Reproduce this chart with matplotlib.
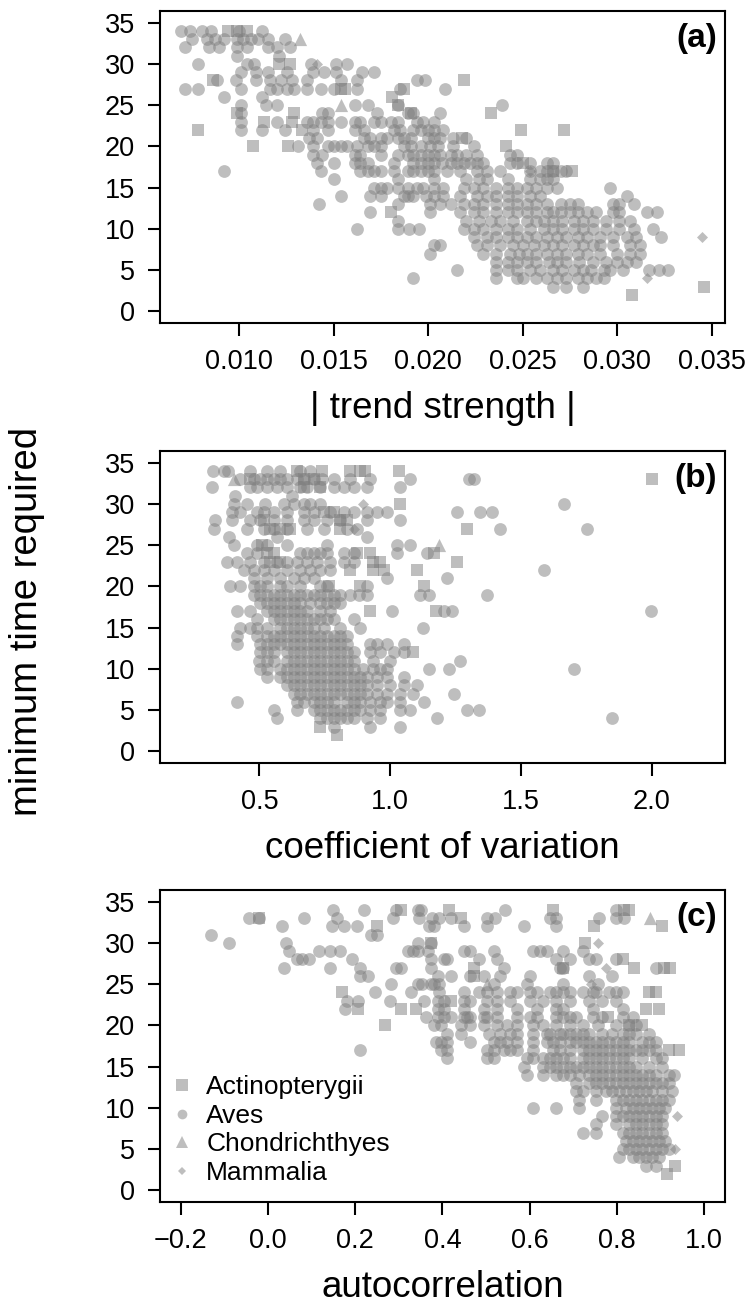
import matplotlib
matplotlib.use("Agg")
import matplotlib.pyplot as plt
from matplotlib.lines import Line2D

plt.rcParams['font.family'] = ['Liberation Sans', 'DejaVu Sans']

# --- Panel (a): |trend strength| vs minimum time required ---
# Aves rows: minimum time -> trend strength values
a_aves = {
    34: [0.0069, 0.0074, 0.0080, 0.0085, 0.0100, 0.0112],
    33: [0.0075, 0.0083, 0.0087, 0.0092, 0.0099, 0.0102, 0.0106, 0.0110, 0.0115, 0.0124],
    32: [0.0071, 0.0084, 0.0089, 0.0099, 0.0104, 0.0115, 0.0120, 0.0127],
    31: [0.0099, 0.0121],
    30: [0.0078, 0.0104, 0.0108, 0.0138, 0.0151, 0.0157],
    29: [0.0101, 0.0109, 0.0115, 0.0125, 0.0139, 0.0145, 0.0151, 0.0165, 0.0171],
    28: [0.0088, 0.0098, 0.0109, 0.0116, 0.0122, 0.0128, 0.0136, 0.0154, 0.0162, 0.0194, 0.0198],
    27: [0.0071, 0.0078, 0.0101, 0.0116, 0.0120, 0.0125, 0.0129, 0.0136, 0.0143, 0.0150, 0.0162,
         0.0185, 0.0209],
    26: [0.0092, 0.0112],
    25: [0.0101, 0.0114, 0.0120, 0.0161, 0.0168, 0.0184, 0.0239],
    24: [0.0101, 0.0144, 0.0147, 0.0173, 0.0189, 0.0192, 0.0206],
    23: [0.0101, 0.0120, 0.0136, 0.0139, 0.0143, 0.0147, 0.0154, 0.0161, 0.0164, 0.0171, 0.0175,
         0.0180, 0.0184, 0.0194, 0.0197, 0.0203],
    22: [0.0101, 0.0112, 0.0124, 0.0139, 0.0147, 0.0161, 0.0166, 0.0182, 0.0185, 0.0192, 0.0196,
         0.0200, 0.0203, 0.0208],
    21: [0.0137, 0.0141, 0.0166, 0.0169, 0.0175, 0.0178, 0.0184, 0.0187, 0.0191, 0.0200, 0.0203,
         0.0206, 0.0213, 0.0220],
    20: [0.0131, 0.0139, 0.0147, 0.0150, 0.0154, 0.0157, 0.0162, 0.0168, 0.0171, 0.0175, 0.0187,
         0.0191, 0.0196, 0.0201, 0.0205, 0.0213, 0.0224],
    19: [0.0139, 0.0144, 0.0161, 0.0164, 0.0175, 0.0184, 0.0189, 0.0192, 0.0196, 0.0200, 0.0203,
         0.0206, 0.0212, 0.0215, 0.0220, 0.0226, 0.0243, 0.0247],
    18: [0.0141, 0.0150, 0.0161, 0.0164, 0.0168, 0.0182, 0.0192, 0.0196, 0.0200, 0.0203, 0.0207,
         0.0212, 0.0215, 0.0219, 0.0222, 0.0226, 0.0229, 0.0243, 0.0247, 0.0254, 0.0263, 0.0266],
    17: [0.0092, 0.0143, 0.0164, 0.0168, 0.0171, 0.0175, 0.0182, 0.0189, 0.0192, 0.0196, 0.0200,
         0.0203, 0.0210, 0.0217, 0.0226, 0.0231, 0.0238, 0.0254, 0.0259, 0.0263, 0.0266, 0.0270,
         0.0273],
    16: [0.0150, 0.0184, 0.0203, 0.0220, 0.0227, 0.0231, 0.0242, 0.0254, 0.0259, 0.0263, 0.0266],
    15: [0.0171, 0.0175, 0.0178, 0.0184, 0.0189, 0.0194, 0.0197, 0.0203, 0.0208, 0.0219, 0.0224,
         0.0229, 0.0236, 0.0242, 0.0247, 0.0252, 0.0257, 0.0263, 0.0268, 0.0296],
    14: [0.0154, 0.0169, 0.0175, 0.0187, 0.0189, 0.0192, 0.0199, 0.0203, 0.0208, 0.0217, 0.0226,
         0.0231, 0.0236, 0.0242, 0.0247, 0.0254, 0.0259, 0.0305],
    13: [0.0142, 0.0184, 0.0201, 0.0206, 0.0212, 0.0219, 0.0224, 0.0229, 0.0236, 0.0242, 0.0247,
         0.0252, 0.0257, 0.0263, 0.0270, 0.0275, 0.0279, 0.0298, 0.0301, 0.0309],
    12: [0.0169, 0.0201, 0.0217, 0.0224, 0.0229, 0.0236, 0.0242, 0.0247, 0.0252, 0.0257, 0.0263,
         0.0266, 0.0270, 0.0275, 0.0279, 0.0284, 0.0289, 0.0298, 0.0301, 0.0316, 0.0321],
    11: [0.0184, 0.0220, 0.0227, 0.0233, 0.0238, 0.0245, 0.0252, 0.0257, 0.0261, 0.0266, 0.0271,
         0.0277, 0.0282, 0.0287, 0.0294, 0.0301, 0.0307],
    10: [0.0162, 0.0184, 0.0190, 0.0195, 0.0219, 0.0224, 0.0229, 0.0236, 0.0242, 0.0247, 0.0254,
         0.0261, 0.0266, 0.0271, 0.0277, 0.0282, 0.0287, 0.0294, 0.0301, 0.0309, 0.0319],
    9: [0.0224, 0.0231, 0.0236, 0.0242, 0.0247, 0.0252, 0.0257, 0.0263, 0.0268, 0.0273, 0.0279,
        0.0284, 0.0291, 0.0298, 0.0305, 0.0310, 0.0323],
    8: [0.0203, 0.0206, 0.0226, 0.0231, 0.0238, 0.0245, 0.0250, 0.0256, 0.0261, 0.0266, 0.0271,
        0.0277, 0.0282, 0.0287, 0.0291, 0.0298, 0.0307, 0.0312],
    7: [0.0201, 0.0229, 0.0236, 0.0243, 0.0248, 0.0252, 0.0257, 0.0263, 0.0268, 0.0273, 0.0279,
        0.0284, 0.0291, 0.0300, 0.0307, 0.0312],
    6: [0.0236, 0.0242, 0.0247, 0.0252, 0.0257, 0.0264, 0.0268, 0.0273, 0.0280, 0.0287, 0.0294,
        0.0300, 0.0305, 0.0310],
    5: [0.0215, 0.0236, 0.0242, 0.0247, 0.0254, 0.0259, 0.0266, 0.0271, 0.0277, 0.0282, 0.0286,
        0.0293, 0.0296, 0.0303, 0.0317, 0.0322, 0.0327],
    4: [0.0192, 0.0236, 0.0247, 0.0250, 0.0257, 0.0263, 0.0268, 0.0273, 0.0279, 0.0284, 0.0289,
        0.0293],
    3: [0.0266, 0.0273, 0.0282],
}
a_actino_x = [0.0094, 0.0099, 0.0104, 0.0086, 0.0078, 0.0099, 0.0107, 0.0113, 0.0126, 0.0129,
              0.0128, 0.0133, 0.0121, 0.0127, 0.0154, 0.0156, 0.0187, 0.0181, 0.0184, 0.0191,
              0.0180, 0.0219, 0.0233, 0.0249, 0.0272, 0.0241, 0.0218, 0.0250, 0.0276, 0.0266,
              0.0308, 0.0346]
a_actino_y = [34, 34, 34, 28, 22, 24, 20, 23, 20, 24,
              23, 22, 30, 30, 27, 27, 27, 26, 25, 24,
              12, 28, 24, 22, 22, 20, 21, 18, 17, 17,
              2, 3]
a_chond_x = [0.0132, 0.0154]
a_chond_y = [33, 25]
a_mamm_x = [0.0141, 0.0254, 0.0316, 0.0345]
a_mamm_y = [30, 17, 4, 9]

# --- Panel (b): coefficient of variation ---
b_aves = {
    34: [0.323, 0.364, 0.379, 0.466, 0.529, 0.580, 0.656, 0.695],
    33: [0.427, 0.478, 0.504, 0.529, 0.555, 0.580, 0.606, 0.644, 0.669, 0.707, 0.739, 0.784,
         0.847, 0.924, 1.076, 1.300, 1.319],
    32: [0.319, 0.466, 0.491, 0.529, 0.567, 0.606, 0.656, 0.682, 0.733, 0.784, 0.822, 0.860,
         0.911, 1.038],
    31: [0.408, 0.625],
    30: [0.402, 0.453, 0.523, 0.593, 0.631, 0.669, 0.695, 0.733, 1.663],
    29: [0.396, 0.427, 0.491, 0.517, 0.555, 0.606, 0.669, 0.707, 0.771, 0.822, 0.860, 0.911,
         0.949, 0.987, 1.256, 1.345, 1.389],
    28: [0.332, 0.396, 0.466, 0.504, 0.555, 0.606, 0.669, 0.707, 0.758, 0.809, 0.911, 1.038],
    27: [0.326, 0.453, 0.517, 0.555, 0.606, 0.682, 0.746, 0.835, 0.873, 1.421, 1.752],
    26: [0.383, 0.567, 0.911],
    25: [0.402, 0.491, 0.529, 0.606, 0.758, 1.025, 1.076],
    24: [0.453, 0.491, 0.656, 0.682, 0.707, 0.733, 0.758, 0.822, 0.860, 1.025, 1.141],
    23: [0.377, 0.415, 0.466, 0.517, 0.567, 0.606, 0.644, 0.682, 0.720, 0.771, 0.822, 0.860],
    22: [0.440, 0.478, 0.517, 0.555, 0.606, 0.656, 0.695, 0.733, 0.771, 1.587],
    21: [0.478, 0.529, 0.580, 0.631, 0.669, 0.707, 0.987, 1.218],
    20: [0.389, 0.427, 0.478, 0.504, 0.529, 0.580, 0.606, 0.656, 0.733, 0.758, 0.911],
    19: [0.478, 0.504, 0.529, 0.555, 0.580, 0.606, 0.631, 0.656, 0.682, 0.707, 0.733, 0.758,
         0.784, 0.809, 0.847, 0.879, 0.911, 1.115, 1.148, 1.370],
    18: [0.504, 0.529, 0.555, 0.580, 0.606, 0.631, 0.656, 0.695, 0.733, 0.758, 0.784, 0.809],
    17: [0.415, 0.466, 0.529, 0.555, 0.580, 0.606, 0.631, 0.656, 0.682, 0.733, 0.771, 1.006,
         1.205, 1.237, 1.997],
    16: [0.491, 0.555, 0.580, 0.606, 0.631, 0.656, 0.682, 0.707, 0.733, 0.758, 0.784, 0.860],
    15: [0.427, 0.466, 0.491, 0.529, 0.580, 0.606, 0.631, 0.656, 0.682, 0.707, 0.746, 0.809,
         0.885, 1.127],
    14: [0.415, 0.491, 0.529, 0.555, 0.580, 0.606, 0.631, 0.656, 0.682, 0.707, 0.733, 0.758,
         0.784, 0.809, 0.835],
    13: [0.415, 0.504, 0.529, 0.555, 0.580, 0.606, 0.631, 0.656, 0.682, 0.707, 0.733, 0.758,
         0.784, 0.809, 0.835, 0.924, 0.949, 0.987, 1.051],
    12: [0.504, 0.529, 0.555, 0.606, 0.631, 0.656, 0.682, 0.707, 0.733, 0.758, 0.784, 0.809,
         0.835, 0.860, 0.924, 0.962, 1.013, 1.051],
    11: [0.497, 0.529, 0.555, 0.606, 0.631, 0.656, 0.682, 0.707, 0.733, 0.758, 0.784, 0.809,
         0.835, 0.860, 0.936, 1.000, 1.266],
    10: [0.504, 0.529, 0.580, 0.606, 0.631, 0.656, 0.682, 0.707, 0.733, 0.758, 0.784, 0.809,
         0.835, 0.860, 0.898, 0.936, 0.962, 0.987, 1.147, 1.224, 1.701],
    9: [0.529, 0.580, 0.606, 0.631, 0.656, 0.682, 0.707, 0.733, 0.758, 0.784, 0.809, 0.835,
        0.860, 0.885, 0.911, 0.949, 0.987, 1.051],
    8: [0.606, 0.631, 0.656, 0.682, 0.707, 0.733, 0.758, 0.784, 0.809, 0.835, 0.860, 0.885,
        0.911, 0.949, 1.000, 1.051, 1.102],
    7: [0.631, 0.656, 0.682, 0.707, 0.733, 0.758, 0.784, 0.809, 0.835, 0.860, 0.885, 0.911,
        0.949, 0.987, 1.038, 1.089, 1.243],
    6: [0.415, 0.644, 0.669, 0.707, 0.733, 0.758, 0.784, 0.835, 0.860, 0.885, 0.924, 0.962,
        0.987, 1.038, 1.131],
    5: [0.555, 0.644, 0.707, 0.733, 0.758, 0.784, 0.809, 0.835, 0.860, 0.885, 0.924, 0.962,
        1.038, 1.076, 1.294, 1.338],
    4: [0.567, 0.733, 0.758, 0.784, 0.809, 0.835, 0.860, 0.911, 0.962, 1.178, 1.847],
    3: [0.784, 0.924, 1.038],
}
b_actino_x = [0.643, 0.738, 0.847, 0.885, 0.904, 1.032, 0.466, 0.669, 0.707, 2.000,
              0.669, 0.733, 1.038, 0.746, 0.784, 0.517, 0.809, 0.835, 0.542, 0.580,
              0.618, 0.809, 1.294, 0.510, 0.529, 0.555, 0.873, 0.924, 1.166, 0.542,
              0.580, 0.936, 0.962, 1.256, 0.847, 0.936, 0.975, 1.102, 0.765, 0.885,
              1.131, 0.924, 1.177, 1.089, 0.733, 0.796]
b_actino_y = [34, 34, 34, 34, 34, 34, 33, 33, 33, 33,
              32, 32, 30, 29, 29, 28, 28, 28, 27, 27,
              27, 27, 27, 25, 24, 24, 24, 24, 24, 23,
              23, 23, 23, 23, 22, 22, 22, 22, 20, 20,
              20, 17, 17, 12, 3, 2]
b_chond_x = [0.402, 1.186]
b_chond_y = [33, 25]
b_mamm_x = [0.896, 0.860]
b_mamm_y = [30, 27]

# --- Panel (c): autocorrelation ---
c_aves = {
    34: [0.150, 0.220, 0.294, 0.343, 0.351, 0.544, 0.798],
    33: [-0.043, -0.020, 0.082, 0.157, 0.286, 0.347, 0.377, 0.393, 0.419, 0.502, 0.521, 0.646,
         0.661, 0.760, 0.798, 0.816],
    32: [0.033, 0.146, 0.173, 0.203, 0.370, 0.381, 0.449, 0.502, 0.586, 0.661],
    31: [-0.130, 0.237, 0.249],
    30: [-0.089, 0.042, 0.343, 0.374],
    29: [0.049, 0.116, 0.142, 0.165, 0.321, 0.332, 0.343, 0.366, 0.449, 0.464, 0.518, 0.608,
         0.623, 0.639, 0.677, 0.722],
    28: [0.066, 0.078, 0.093, 0.192, 0.373, 0.404, 0.411, 0.483, 0.525, 0.661, 0.692, 0.737,
         0.752, 0.798],
    27: [0.036, 0.142, 0.211, 0.294, 0.305, 0.373, 0.540, 0.669, 0.677, 0.889],
    26: [0.211, 0.230, 0.389, 0.419, 0.464, 0.495, 0.533, 0.601, 0.737, 0.790],
    25: [0.282, 0.343, 0.354, 0.373, 0.381, 0.393, 0.518, 0.593, 0.677, 0.756],
    24: [0.245, 0.328, 0.393, 0.449, 0.483, 0.502, 0.525, 0.555, 0.570, 0.601, 0.616, 0.646,
         0.661, 0.677, 0.692, 0.722, 0.745, 0.752, 0.783, 0.798, 0.813],
    23: [0.180, 0.207, 0.279, 0.358, 0.389, 0.404, 0.449, 0.464, 0.502, 0.525, 0.555, 0.601,
         0.631, 0.661, 0.692, 0.737, 0.767, 0.798],
    22: [0.176, 0.389, 0.404, 0.449, 0.495, 0.525, 0.570, 0.616, 0.661, 0.677, 0.745, 0.813],
    21: [0.362, 0.389, 0.404, 0.419, 0.449, 0.457, 0.464, 0.495, 0.502, 0.525, 0.570, 0.601,
         0.616, 0.661, 0.677, 0.692, 0.707, 0.745, 0.767, 0.813, 0.836],
    20: [0.381, 0.396, 0.442, 0.464, 0.495, 0.525, 0.548, 0.570, 0.608, 0.631, 0.661, 0.692,
         0.722, 0.756, 0.798, 0.828, 0.843],
    19: [0.411, 0.442, 0.506, 0.533, 0.555, 0.570, 0.608, 0.639, 0.646, 0.669, 0.677, 0.692,
         0.707, 0.722, 0.737, 0.767, 0.790, 0.813, 0.828, 0.843, 0.874],
    18: [0.385, 0.396, 0.411, 0.464, 0.518, 0.533, 0.548, 0.570, 0.608, 0.639, 0.654, 0.669,
         0.692, 0.707, 0.722, 0.737, 0.752, 0.767, 0.783, 0.798, 0.813, 0.828, 0.858, 0.874,
         0.889],
    17: [0.211, 0.396, 0.411, 0.502, 0.518, 0.540, 0.555, 0.570, 0.608, 0.654, 0.669, 0.692,
         0.722, 0.737, 0.752, 0.767, 0.783, 0.798, 0.813, 0.828, 0.843, 0.858, 0.874, 0.889],
    16: [0.411, 0.502, 0.518, 0.593, 0.608, 0.631, 0.646, 0.661, 0.677, 0.692, 0.722, 0.737,
         0.752, 0.767, 0.783, 0.798, 0.813, 0.828, 0.858, 0.889, 0.904],
    15: [0.586, 0.631, 0.646, 0.661, 0.677, 0.692, 0.707, 0.722, 0.737, 0.752, 0.767, 0.783,
         0.798, 0.813, 0.828, 0.843, 0.874, 0.904],
    14: [0.593, 0.631, 0.661, 0.677, 0.692, 0.714, 0.737, 0.752, 0.767, 0.783, 0.798, 0.813,
         0.828, 0.843, 0.858, 0.874, 0.889, 0.919, 0.930],
    13: [0.707, 0.737, 0.752, 0.767, 0.783, 0.798, 0.813, 0.828, 0.843, 0.858, 0.874, 0.889,
         0.904, 0.919],
    12: [0.707, 0.722, 0.752, 0.775, 0.790, 0.805, 0.821, 0.836, 0.851, 0.866, 0.881, 0.904,
         0.927],
    11: [0.714, 0.752, 0.798, 0.813, 0.828, 0.843, 0.858, 0.874, 0.889, 0.904, 0.919],
    10: [0.608, 0.661, 0.714, 0.798, 0.821, 0.836, 0.851, 0.866, 0.881, 0.896, 0.911],
    9: [0.767, 0.798, 0.813, 0.828, 0.843, 0.858, 0.874, 0.889, 0.904],
    8: [0.752, 0.798, 0.828, 0.843, 0.858, 0.874, 0.889, 0.904],
    7: [0.722, 0.752, 0.813, 0.828, 0.843, 0.858, 0.874, 0.889, 0.904],
    6: [0.821, 0.836, 0.851, 0.866, 0.881, 0.896, 0.911],
    5: [0.813, 0.828, 0.843, 0.858, 0.874, 0.889, 0.904, 0.919],
    4: [0.805, 0.836, 0.851, 0.866, 0.881, 0.896],
    3: [0.866, 0.889],
}
c_actino_x = [-0.020, 0.305, 0.415, 0.654, 0.816, 0.828, 0.442, 0.249, 0.748, 0.904,
              0.373, 0.726, 0.813, 0.472, 0.677, 0.839, 0.908, 0.923, 0.472, 0.169,
              0.874, 0.889, 0.419, 0.207, 0.305, 0.339, 0.866, 0.896, 0.779, 0.267,
              0.828, 0.858, 0.919, 0.942, 0.934, 0.916]
c_actino_y = [33, 34, 34, 34, 34, 34, 33, 32, 32, 32,
              30, 30, 28, 27, 27, 27, 27, 27, 26, 24,
              24, 24, 23, 22, 22, 22, 22, 22, 21, 20,
              20, 20, 17, 17, 3, 2]
c_chond_x = [0.877, 0.502]
c_chond_y = [33, 25]
c_mamm_x = [0.756, 0.775, 0.741, 0.938, 0.934]
c_mamm_y = [30, 27, 25, 9, 5]

# --- Axis ticks / labels ---
y_ticks = [0, 5, 10, 15, 20, 25, 30, 35]
a_xticks = [0.010, 0.015, 0.020, 0.025, 0.030, 0.035]
b_xticks = [0.5, 1.0, 1.5, 2.0]
c_xticks = [-0.2, 0.0, 0.2, 0.4, 0.6, 0.8, 1.0]
class_names = ["Actinopterygii", "Aves", "Chondrichthyes", "Mammalia"]

GRAY = "#7f7f7f"
ALPHA = 0.5
# marker, size (pt) for each class in the scatter
MARKERS = {"Actinopterygii": ("s", 9.0), "Aves": ("o", 9.2),
           "Chondrichthyes": ("^", 9.5), "Mammalia": ("D", 5.6)}


def rows_to_xy(rows):
    """Expand {y: [x, ...]} rows into flat x and y lists."""
    xs, ys = [], []
    for yv, xlist in rows.items():
        xs.extend(xlist)
        ys.extend([yv] * len(xlist))
    return xs, ys


def draw_panel(ax, aves, actino, chond, mamm, xlim, xticks, xlabels, xlabel, tag):
    groups = [("Aves", rows_to_xy(aves)), ("Actinopterygii", actino),
              ("Chondrichthyes", chond), ("Mammalia", mamm)]
    for name, (xs, ys) in groups:
        mk, sz = MARKERS[name]
        ax.scatter(xs, ys, marker=mk, s=sz ** 2, c=GRAY, alpha=ALPHA, linewidths=0)

    ax.set_xlim(*xlim)
    ax.set_ylim(-1.4, 36.4)
    ax.set_xticks(xticks, xlabels)
    ax.set_yticks(y_ticks, [str(t) for t in y_ticks])
    ax.tick_params(axis="both", direction="out", length=9, width=1.5, labelsize=19.5)
    ax.tick_params(axis="x", pad=10)
    ax.tick_params(axis="y", pad=9)
    for sp in ax.spines.values():
        sp.set_linewidth(1.5)
    ax.set_xlabel(xlabel, fontsize=26.5, labelpad=11)
    ax.text(0.986, 0.962, tag, transform=ax.transAxes, ha="right", va="top",
            fontsize=24, fontweight="bold")


fig = plt.figure(figsize=(7.48, 13.03), dpi=100)
left, width, height = 0.2139, 0.7553, 0.2395
ax_a = fig.add_axes([left, 0.7521, width, height])
ax_b = fig.add_axes([left, 0.4144, width, height])
ax_c = fig.add_axes([left, 0.0775, width, height])

draw_panel(ax_a, a_aves, (a_actino_x, a_actino_y), (a_chond_x, a_chond_y),
           (a_mamm_x, a_mamm_y), (0.0058, 0.0357), a_xticks,
           [f"{t:.3f}" for t in a_xticks], "| trend strength |", "(a)")
draw_panel(ax_b, b_aves, (b_actino_x, b_actino_y), (b_chond_x, b_chond_y),
           (b_mamm_x, b_mamm_y), (0.12, 2.28), b_xticks,
           [f"{t:.1f}" for t in b_xticks], "coefficient of variation", "(b)")
draw_panel(ax_c, c_aves, (c_actino_x, c_actino_y), (c_chond_x, c_chond_y),
           (c_mamm_x, c_mamm_y), (-0.248, 1.048), c_xticks,
           [f"{t:.1f}".replace("-", "\u2212") for t in c_xticks], "autocorrelation", "(c)")

# legend in panel (c), smaller markers like the original
legend_sizes = {"Actinopterygii": 8.0, "Aves": 7.0, "Chondrichthyes": 8.5, "Mammalia": 4.3}
handles = [Line2D([], [], linestyle="none", marker=MARKERS[n][0], markersize=legend_sizes[n],
                  markerfacecolor=GRAY, markeredgewidth=0, alpha=ALPHA) for n in class_names]
ax_c.legend(handles, class_names, loc="lower left", bbox_to_anchor=(0.0157, 0.055),
            frameon=False, fontsize=19, labelspacing=0.17, handlelength=1.0,
            handletextpad=0.42, borderpad=0, borderaxespad=0)

fig.text(27 / 748, 1 - 621 / 1303, "minimum time required", rotation=90,
         ha="center", va="center", fontsize=27.5)

fig.savefig("out.png", dpi=100)
